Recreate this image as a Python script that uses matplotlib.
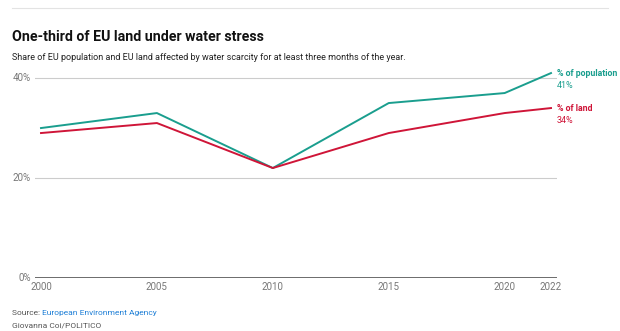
import matplotlib.pyplot as plt
from matplotlib.lines import Line2D

years = [2000, 2005, 2010, 2015, 2020, 2022]
population = [30, 33, 22, 35, 37, 41]
land = [29, 31, 22, 29, 33, 34]
y_ticks = [0, 20, 40]
x_ticks = [2000, 2005, 2010, 2015, 2020, 2022]

teal = '#1a9e8e'
red = '#cf1538'
grey = '#777777'

plt.rcParams['font.family'] = ['Liberation Sans Narrow', 'Roboto', 'DejaVu Sans']

fig = plt.figure(figsize=(6.2, 3.31), dpi=100)
ax = fig.add_axes([35 / 620, 1 - 278 / 331, 522 / 620, 213 / 331])

# gridlines
for t in y_ticks:
    ax.axhline(t, color='#444444' if t == 0 else '#cccccc', lw=1.1 if t == 0 else 0.8, zorder=1)

ax.plot(years, population, color=teal, lw=1.4, zorder=3)
ax.plot(years, land, color=red, lw=1.4, zorder=3)

ax.set_xlim(2000 - 6 / 23.18, 2022 + 6 / 23.18)
ax.set_ylim(0, 40 + 13 / 4.975)
for s in ax.spines.values():
    s.set_visible(False)
ax.set_yticks(y_ticks)
ax.set_yticklabels([f'{t}%' for t in y_ticks])
ax.set_xticks(x_ticks)
ax.set_xticklabels([str(t) for t in x_ticks])
ax.tick_params(length=0, labelsize=7, colors=grey)
ax.tick_params(axis='y', pad=3)
ax.tick_params(axis='x', pad=3)
for lab in ax.get_yticklabels():
    lab.set_verticalalignment('center')

# end labels
ax.annotate('% of population', (years[-1], population[-1]), xytext=(4, 0),
            textcoords='offset points', color=teal, fontsize=6.3, fontweight='bold',
            va='center', ha='left', annotation_clip=False)
ax.annotate(f'{population[-1]}%', (years[-1], population[-1]), xytext=(4, -9),
            textcoords='offset points', color=teal, fontsize=6.5,
            va='center', ha='left', annotation_clip=False)
ax.annotate('% of land', (years[-1], land[-1]), xytext=(4, 0),
            textcoords='offset points', color=red, fontsize=6.3, fontweight='bold',
            va='center', ha='left', annotation_clip=False)
ax.annotate(f'{land[-1]}%', (years[-1], land[-1]), xytext=(4, -9),
            textcoords='offset points', color=red, fontsize=6.5,
            va='center', ha='left', annotation_clip=False)

# header / footer
fig.add_artist(Line2D([12 / 620, 608 / 620], [1 - 8 / 331] * 2, color='#e3e3e3', lw=0.8))
fig.text(12 / 620, 1 - 37 / 331, 'One-third of EU land under water stress',
         fontsize=10.2, fontweight='bold', color='#111111', va='center')
fig.text(12 / 620, 1 - 57 / 331,
         'Share of EU population and EU land affected by water scarcity for at least three months of the year.',
         fontsize=6.5, color='#222222', va='center')
src = fig.text(12 / 620, 1 - 313 / 331, 'Source: ', fontsize=6, color='#555555', va='center')
fig.canvas.draw()
bb = src.get_window_extent()
fig.text(bb.x1 / fig.bbox.width, 1 - 313 / 331, 'European Environment Agency',
         fontsize=6, color='#1e7fd6', va='center')
fig.text(12 / 620, 1 - 325 / 331, 'Giovanna Coi/POLITICO', fontsize=6, color='#555555', va='center')

fig.savefig('out.png', dpi=100)
